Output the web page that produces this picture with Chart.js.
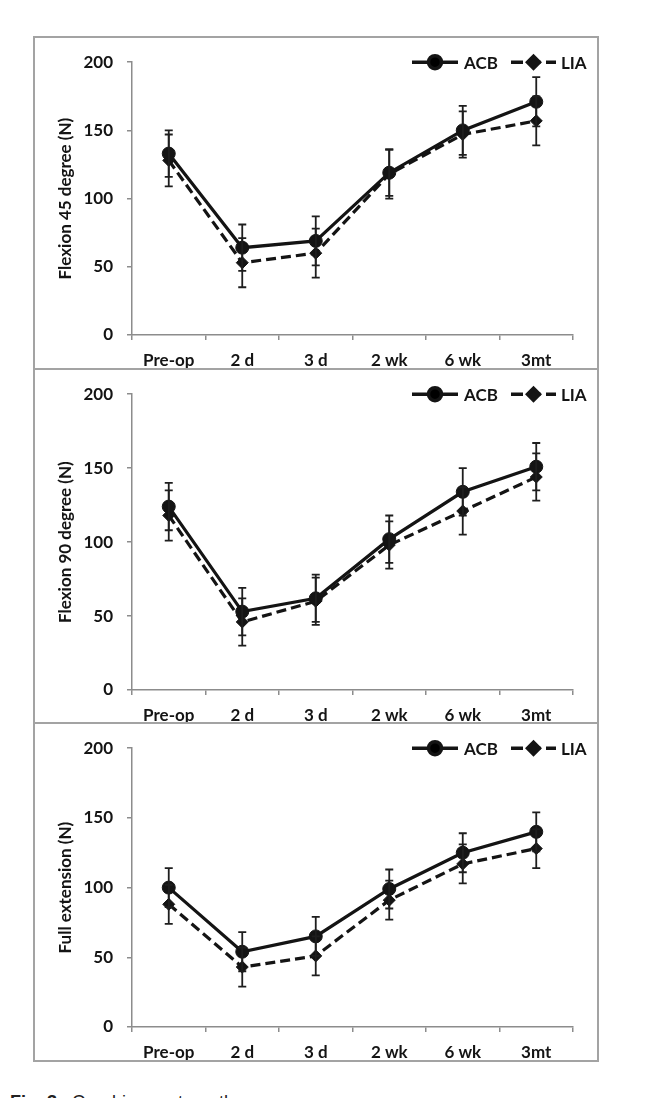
<!DOCTYPE html>
<html>
<head>
<meta charset="utf-8">
<script src="https://cdn.jsdelivr.net/npm/chart.js@4.4.1/dist/chart.umd.min.js"></script>
<style>
  body { margin: 0; background: #fff; width: 650px; height: 1098px; overflow: hidden; position: relative; }
  .panel { position: absolute; left: 33px; width: 562px; border: 2px solid #a3a3a3; background: #fff; }
  .panel canvas { display: block; }
  #caption { position: absolute; left: 10px; top: 1092px; font: 18px "Liberation Sans", Arial, sans-serif; color: #222; white-space: nowrap; }
</style>
</head>
<body>
<div class="panel" style="top:36px;height:330px"><canvas id="flex45Chart" width="562" height="330"></canvas></div>
<div class="panel" style="top:368px;height:352px"><canvas id="flex90Chart" width="562" height="352"></canvas></div>
<div class="panel" style="top:722px;height:336px"><canvas id="fullExtChart" width="562" height="336"></canvas></div>
<div id="caption"><b>Fig. 3</b>&nbsp;&nbsp; Quadriceps strength</div>
<script>
// categories and tick labels
var categories = ['Pre-op', '2 d', '3 d', '2 wk', '6 wk', '3mt'];
var yTicks = [0, 50, 100, 150, 200];

// Flexion 45 degree
var flex45ACB = [133, 64, 69, 119, 150, 171];
var flex45LIA = [128, 53, 60, 118, 147, 157];
var flex45ACBErr = [17, 17, 18, 17, 18, 18];
var flex45LIAErr = [19, 18, 18, 18, 17, 18];

// Flexion 90 degree
var flex90ACB = [124, 53, 62, 102, 134, 151];
var flex90LIA = [118, 46, 60, 98, 121, 144];
var flex90ACBErr = [16, 16, 16, 16, 16, 16];
var flex90LIAErr = [17, 16, 16, 16, 16, 16];

// Full extension
var fullExtACB = [100, 54, 65, 99, 125, 140];
var fullExtLIA = [88, 43, 51, 91, 117, 128];
var fullExtACBErr = [14, 14, 14, 14, 14, 14];
var fullExtLIAErr = [14, 14, 14, 14, 14, 14];

var ink = '#141414';
var axisGrey = '#8c8c8c';
var fontFamily = 'Lato, "Open Sans", sans-serif';

// error bars, drawn through the y scale
var errorBars = {
  id: 'errorBars',
  afterDatasetsDraw: function (chart) {
    var ctx = chart.ctx;
    var yScale = chart.scales.y;
    ctx.save();
    ctx.strokeStyle = '#1e1e1e';
    ctx.lineWidth = 1.8;
    chart.data.datasets.forEach(function (ds, di) {
      var meta = chart.getDatasetMeta(di);
      meta.data.forEach(function (pt, i) {
        var hi = yScale.getPixelForValue(ds.data[i] + ds.err[i]);
        var lo = yScale.getPixelForValue(ds.data[i] - ds.err[i]);
        ctx.beginPath();
        ctx.moveTo(pt.x, hi); ctx.lineTo(pt.x, lo);
        ctx.moveTo(pt.x - 4, hi); ctx.lineTo(pt.x + 4, hi);
        ctx.moveTo(pt.x - 4, lo); ctx.lineTo(pt.x + 4, lo);
        ctx.stroke();
      });
    });
    ctx.restore();
  }
};

// legend in the top right corner: line sample with marker, then label
var cornerLegend = {
  id: 'cornerLegend',
  afterDraw: function (chart) {
    var ctx = chart.ctx;
    var area = chart.chartArea;
    var y = area.top;
    var slots = [{ from: -161, to: -115, text: -109 }, { from: -62, to: -17, text: -12 }];
    ctx.save();
    chart.data.datasets.forEach(function (ds, di) {
      var s = slots[di];
      var x0 = area.right + s.from, x1 = area.right + s.to;
      ctx.strokeStyle = ink;
      ctx.lineWidth = 3.5;
      ctx.setLineDash(ds.borderDash ? [12, 5.5] : []);
      ctx.beginPath();
      ctx.moveTo(x0, y); ctx.lineTo(x1, y);
      ctx.stroke();
      ctx.setLineDash([]);
      Chart.helpers.drawPoint(ctx, {
        pointStyle: ds.pointStyle, radius: ds.pointRadius, borderWidth: 1
      }, (x0 + x1) / 2, y);
      ctx.fillStyle = ink;
      ctx.font = 'bold 17px ' + fontFamily;
      ctx.textBaseline = 'middle';
      ctx.textAlign = 'left';
      ctx.fillText(ds.label, area.right + s.text, y + 1);
    });
    ctx.restore();
  }
};

function makeChart(canvasId, title, acb, lia, acbErr, liaErr, padTop, xHeight) {
  var ctx = document.getElementById(canvasId).getContext('2d');
  ctx.fillStyle = ink;
  ctx.strokeStyle = ink;
  return new Chart(ctx, {
    type: 'line',
    data: {
      labels: categories,
      datasets: [{
        label: 'ACB',
        data: acb,
        err: acbErr,
        borderColor: ink,
        backgroundColor: ink,
        borderWidth: 3.2,
        pointStyle: 'circle',
        pointRadius: 6.5,
        pointBorderWidth: 1
      }, {
        label: 'LIA',
        data: lia,
        err: liaErr,
        borderColor: ink,
        backgroundColor: ink,
        borderWidth: 3.2,
        borderDash: [10, 5],
        pointStyle: 'rectRot',
        pointRadius: 6,
        pointBorderWidth: 1
      }]
    },
    options: {
      responsive: false,
      animation: false,
      layout: { padding: { top: padTop, right: 24, left: 0, bottom: 0 } },
      plugins: {
        legend: { display: false },
        tooltip: { enabled: false }
      },
      scales: {
        x: {
          offset: true,
          grid: { display: true, drawOnChartArea: false, drawTicks: true, tickLength: 5, color: axisGrey, lineWidth: 1.5, offset: true },
          border: { display: true, color: axisGrey, width: 1.5 },
          ticks: { color: ink, font: { family: fontFamily, size: 17, weight: 'bold' }, padding: 10, maxRotation: 0, autoSkip: false },
          afterFit: function (scale) { scale.height = xHeight; }
        },
        y: {
          min: 0,
          max: 200,
          afterBuildTicks: function (scale) {
            scale.ticks = yTicks.map(function (v) { return { value: v }; });
          },
          grid: { display: true, drawOnChartArea: false, drawTicks: true, tickLength: 5, color: axisGrey, lineWidth: 1.5 },
          border: { display: true, color: axisGrey, width: 1.5 },
          ticks: { color: ink, font: { family: fontFamily, size: 17, weight: 'bold' }, padding: 14 },
          title: {
            display: true,
            text: title,
            color: ink,
            font: { family: fontFamily, size: 17, weight: 'bold' },
            padding: { top: 20, bottom: 0 }
          },
          afterFit: function (scale) { scale.width = 97; }
        }
      }
    },
    plugins: [errorBars, cornerLegend]
  });
}

makeChart('flex45Chart', 'Flexion 45 degree (N)', flex45ACB, flex45LIA, flex45ACBErr, flex45LIAErr, 16, 33);
makeChart('flex90Chart', 'Flexion 90 degree (N)', flex90ACB, flex90LIA, flex90ACBErr, flex90LIAErr, 18, 32);
makeChart('fullExtChart', 'Full extension (N)', fullExtACB, fullExtLIA, fullExtACBErr, fullExtLIAErr, 19, 33);
</script>
</body>
</html>
